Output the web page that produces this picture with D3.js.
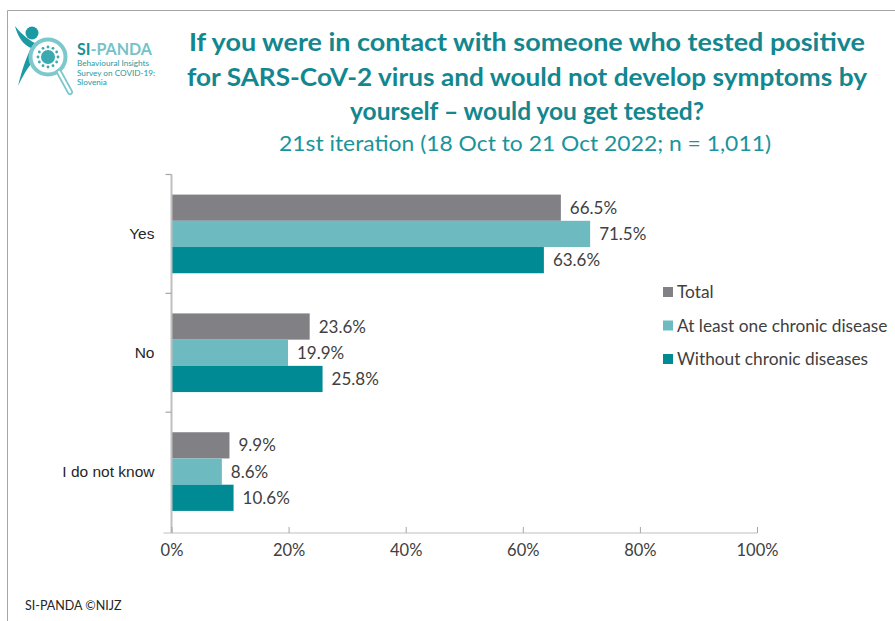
<!DOCTYPE html>
<html>
<head>
<meta charset="utf-8">
<script src="https://cdn.jsdelivr.net/npm/d3@7"></script>
<style>
  html, body { margin: 0; padding: 0; background: #fff; }
  svg { display: block; }
</style>
</head>
<body>
<div id="chart"></div>
<script>
// Survey answers and the three respondent groups
const categories = ["Yes", "No", "I do not know"];
const seriesNames = ["Total", "At least one chronic disease", "Without chronic diseases"];
const totalValues = [66.5, 23.6, 9.9];
const chronicValues = [71.5, 19.9, 8.6];
const noChronicValues = [63.6, 25.8, 10.6];
const xTicks = [0, 20, 40, 60, 80, 100];

const seriesColors = ["#808085", "#6dbbc1", "#008a94"];
const seriesValues = [totalValues, chronicValues, noChronicValues];

const W = 895, H = 621;
const svg = d3.select("#chart").append("svg").attr("width", W).attr("height", H);

// outer frame (left and top edges)
svg.append("path").attr("d", "M7.5,621 V10.5 H895")
  .attr("fill", "none").attr("stroke", "#a6a6a6").attr("stroke-width", 1);

// ---- logo ----
const logo = svg.append("g");
logo.append("circle").attr("cx", 32).attr("cy", 33).attr("r", 6.5).attr("fill", "#1a9aa3");
logo.append("path").attr("d", "M15,26 C18,38 24,45 31,48 C26,58 22,70 18,86 C23,76 28,66 35,60 C38,54 40,49 37,44 C30,41 22,35 15,26 Z")
  .attr("fill", "#1a9aa3");
logo.append("circle").attr("cx", 48).attr("cy", 57).attr("r", 17.5)
  .attr("fill", "#fff").attr("stroke", "#7cc8cc").attr("stroke-width", 4);
logo.append("line").attr("x1", 59).attr("y1", 72).attr("x2", 70).attr("y2", 92)
  .attr("stroke", "#7cc8cc").attr("stroke-width", 6).attr("stroke-linecap", "round");
logo.append("line").attr("x1", 59).attr("y1", 72).attr("x2", 70).attr("y2", 92)
  .attr("stroke", "#fff").attr("stroke-width", 2.5).attr("stroke-linecap", "round");
logo.append("circle").attr("cx", 48).attr("cy", 57).attr("r", 7).attr("fill", "#3aa9b0");
for (let i = 0; i < 12; i++) {
  const a = i * Math.PI / 6;
  logo.append("circle").attr("cx", 48 + 10 * Math.cos(a)).attr("cy", 57 + 10 * Math.sin(a))
    .attr("r", 1.4).attr("fill", "#3aa9b0");
}
const lt = logo.append("text").attr("x", 77).attr("y", 55)
  .attr("font-family", "Lato, 'Open Sans', sans-serif").attr("font-weight", 700).attr("font-size", 17)
  .attr("textLength", 75).attr("lengthAdjust", "spacingAndGlyphs");
lt.append("tspan").attr("fill", "#17939c").text("SI");
lt.append("tspan").attr("fill", "#74c3c8").text("-PANDA");
["Behavioural Insights", "Survey on COVID-19:", "Slovenia"].forEach((s, i) => {
  logo.append("text").attr("x", 77).attr("y", 66 + i * 9.5)
    .attr("font-family", "Lato, 'Open Sans', sans-serif").attr("font-size", 8.2)
    .attr("fill", "#1f9aa2").text(s);
});

// ---- title ----
const titleLines = [
  "If you were in contact with someone who tested positive",
  "for SARS-CoV-2 virus and would not develop symptoms by",
  "yourself \u2013 would you get tested?"
];
const titleWidths = [676, 680, 354];
titleLines.forEach((s, i) => {
  svg.append("text").attr("x", 527).attr("y", 51 + i * 34.5)
    .attr("text-anchor", "middle")
    .attr("font-family", "Lato, 'Open Sans', sans-serif").attr("font-weight", 700)
    .attr("font-size", 25.5).attr("fill", "#13878f")
    .attr("textLength", titleWidths[i]).attr("lengthAdjust", "spacingAndGlyphs")
    .text(s);
});
svg.append("text").attr("x", 525).attr("y", 151)
  .attr("text-anchor", "middle")
  .attr("font-family", "Lato, 'Open Sans', sans-serif")
  .attr("font-size", 21).attr("fill", "#1a949c")
  .attr("textLength", 492).attr("lengthAdjust", "spacingAndGlyphs")
  .text("21st iteration (18 Oct to 21 Oct 2022; n = 1,011)");

// ---- chart ----
const plot = { left: 171.5, right: 757, top: 174.5, bottom: 531 };
const x = d3.scaleLinear().domain([0, 100]).range([plot.left, plot.right]);
const y = d3.scaleBand().domain(categories).range([plot.top, plot.bottom])
  .paddingInner(0.338).paddingOuter(0.169);
const ySub = d3.scaleBand().domain(seriesNames).range([0, y.bandwidth()]);

const groups = svg.append("g").selectAll("g").data(categories).join("g")
  .attr("transform", d => `translate(0,${y(d)})`);

seriesNames.forEach((name, si) => {
  groups.append("rect")
    .attr("x", x(0))
    .attr("y", ySub(name))
    .attr("width", (d, ci) => x(seriesValues[si][ci]) - x(0))
    .attr("height", ySub.bandwidth())
    .attr("fill", seriesColors[si]);
  groups.append("text")
    .attr("x", (d, ci) => x(seriesValues[si][ci]) + 9)
    .attr("y", ySub(name) + ySub.bandwidth() / 2)
    .attr("dy", "0.36em")
    .attr("font-family", "Lato, 'Open Sans', sans-serif")
    .attr("font-size", 17).attr("fill", "#404040")
    .text((d, ci) => seriesValues[si][ci].toFixed(1) + "%");
});

// category axis
const yAxisG = svg.append("g").attr("transform", `translate(${plot.left},0)`);
yAxisG.append("line").attr("x1", 0).attr("x2", 0).attr("y1", plot.top).attr("y2", plot.bottom + 2)
  .attr("stroke", "#bfbfbf").attr("stroke-width", 2);
const bounds = [plot.top, ...categories.map(c => y(c) + y.bandwidth() + y.step() * y.paddingInner() / 2)];
yAxisG.selectAll(".tk").data(bounds.slice(0, 3)).join("line")
  .attr("x1", -6).attr("x2", 0).attr("y1", d => d).attr("y2", d => d)
  .attr("stroke", "#a6a6a6").attr("stroke-width", 1.2);
yAxisG.selectAll(".cl").data(categories).join("text")
  .attr("x", -17).attr("y", d => y(d) + y.bandwidth() / 2).attr("dy", "0.36em")
  .attr("text-anchor", "end")
  .attr("font-family", "'Liberation Sans', Arial, sans-serif")
  .attr("font-size", 15.5).attr("fill", "#262626")
  .text(d => d);

// value axis
const xAxisG = svg.append("g").attr("transform", `translate(0,${plot.bottom + 2})`)
  .call(d3.axisBottom(x).tickValues(xTicks).tickSize(6).tickFormat(d => d + "%"));
xAxisG.select(".domain").attr("stroke", "#bfbfbf").attr("stroke-width", 1.2)
  .attr("d", `M${plot.left - 8},0H${plot.right}`);
xAxisG.selectAll(".tick line").attr("stroke", "#a6a6a6").attr("y1", -6).attr("y2", 0);
xAxisG.selectAll(".tick text")
  .attr("y", 11)
  .attr("font-family", "Lato, 'Open Sans', sans-serif").attr("font-size", 16.5).attr("fill", "#404040");

// legend
const legend = svg.append("g");
seriesNames.forEach((name, i) => {
  const ly = 292 + i * 33.5;
  legend.append("rect").attr("x", 663).attr("y", ly - 5).attr("width", 10).attr("height", 10)
    .attr("fill", seriesColors[i]);
  legend.append("text").attr("x", 677).attr("y", ly).attr("dy", "0.36em")
    .attr("font-family", "Lato, 'Open Sans', sans-serif").attr("font-size", 17.3)
    .attr("fill", "#404040").text(name);
});

// footer
svg.append("text").attr("x", 25).attr("y", 610)
  .attr("font-family", "Lato, 'Open Sans', sans-serif").attr("font-size", 12.5)
  .attr("fill", "#262626").text("SI-PANDA \u00a9NIJZ");
</script>
</body>
</html>
